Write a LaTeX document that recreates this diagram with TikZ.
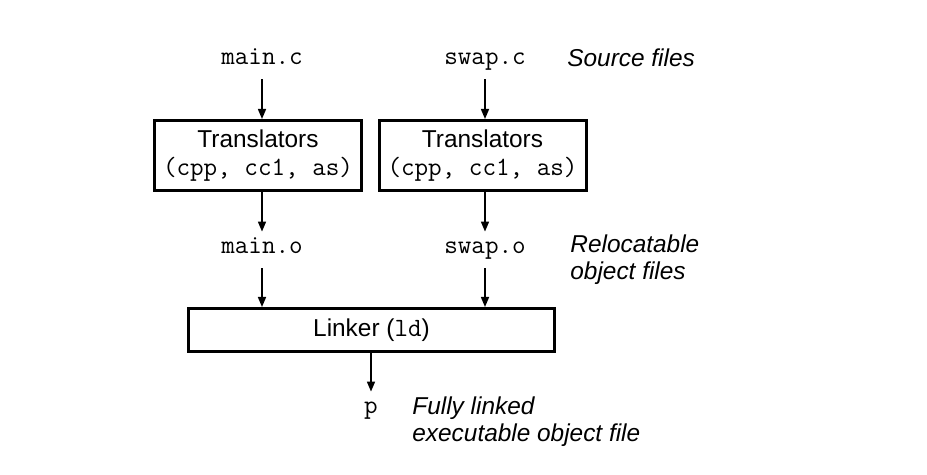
\documentclass[tikz,border=0pt]{standalone}
\usepackage{fontspec}
\setmainfont{Liberation Sans}
\setsansfont{Liberation Sans}
\setmonofont{Latin Modern Mono}[Scale=1.08]
\usetikzlibrary{arrows.meta}

\begin{document}
\begin{tikzpicture}[
  x=0.5pt, y=-0.5pt,
  every node/.style={inner sep=0pt, font=\fontsize{12.2}{14}\selectfont},
  file/.style={font=\fontsize{12.2}{14}\selectfont\ttfamily, text height=0.6em, text depth=0.2em, minimum height=18pt},
  box/.style={draw, line width=1.5pt, align=center, minimum width=103.5pt, minimum height=35pt},
  note/.style={anchor=west, align=left, font=\fontsize{12.2}{13.5}\selectfont\itshape},
  arr/.style={-{Triangle[length=5pt, width=4pt]}, line width=0.75pt},
]
  \useasboundingbox (0,0) rectangle (927,475);

  % Source files
  \node[file] (mainc) at (262,61) {main.c};
  \node[file] (swapc) at (485,61) {swap.c};
  \node[note] (srcnote) at (567,58) {Source files};

  % Translators
  \node[box] (tr1) at (258,155.5) {Translators\\\texttt{(cpp, cc1, as)}};
  \node[box] (tr2) at (482.5,155.5) {Translators\\\texttt{(cpp, cc1, as)}};

  % Object files
  \node[file] (maino) at (262,250) {main.o};
  \node[file] (swapo) at (485,250) {swap.o};
  \node[note] (relnote) at (570,259.5) {Relocatable\\object files};

  % Linker and result
  \node[box, minimum width=183pt, minimum height=21.5pt] (ld) at (371.5,330) {Linker (\texttt{ld})};
  \node[file] (prog) at (371,410) {p};
  \node[note] (exenote) at (412,421.5) {Fully linked\\executable object file};

  \draw[arr] (mainc) -- (mainc |- tr1.north);
  \draw[arr] (swapc) -- (swapc |- tr2.north);
  \draw[arr] (mainc |- tr1.south) -- (maino);
  \draw[arr] (swapc |- tr2.south) -- (swapo);
  \draw[arr] (maino) -- (maino |- ld.north);
  \draw[arr] (swapo) -- (swapo |- ld.north);
  \draw[arr] (ld.south -| prog) -- (prog);
\end{tikzpicture}
\end{document}
